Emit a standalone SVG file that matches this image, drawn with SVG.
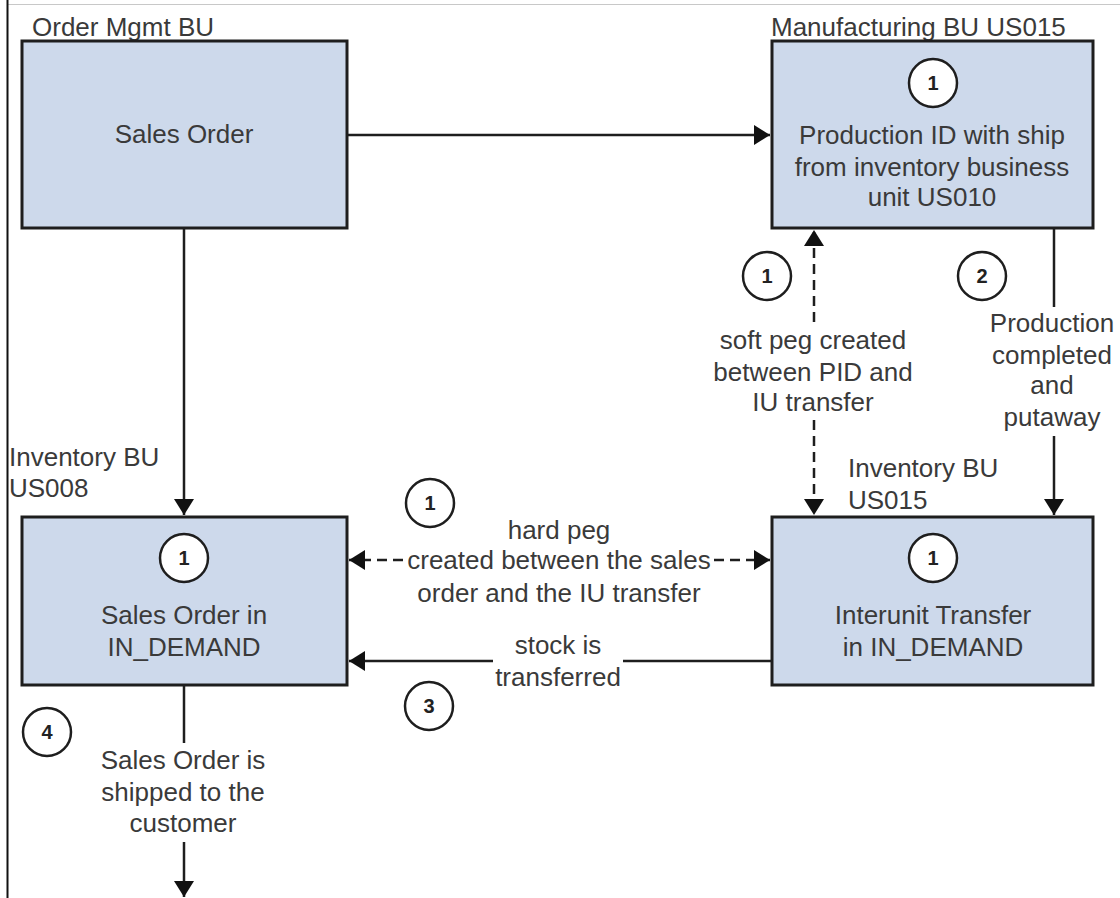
<svg xmlns="http://www.w3.org/2000/svg" width="1120" height="898" viewBox="0 0 1120 898">
<defs>
<style>
.box{fill:#cdd9eb;stroke:#1e1e1e;stroke-width:3}
.t{font-family:"Liberation Sans",Arial,sans-serif;font-size:26px;fill:#3a3a3a}
.c{text-anchor:middle}
.ln{stroke:#1e1e1e;stroke-width:2.5;fill:none}
.dash{stroke-dasharray:10 6}
.circ{fill:#fff;stroke:#1e1e1e;stroke-width:2.5}
.num{font-family:"Liberation Sans",Arial,sans-serif;font-size:20px;font-weight:bold;fill:#222;text-anchor:middle}
</style>
<marker id="ah" viewBox="0 0 16 20" refX="16" refY="10" markerWidth="16" markerHeight="20" markerUnits="userSpaceOnUse" orient="auto-start-reverse">
<path d="M0,0 L16,10 L0,20 z" fill="#111"/>
</marker>
</defs>
<rect x="0" y="0" width="1120" height="898" fill="#fff"/>
<line x1="7" y1="4.5" x2="1120" y2="4.5" stroke="#c8c8c8" stroke-width="1"/>
<line x1="7.5" y1="0" x2="7.5" y2="898" stroke="#111" stroke-width="2"/>

<g id="connectors">
<line class="ln" x1="347" y1="135" x2="770" y2="135" marker-end="url(#ah)"/>
<line class="ln" x1="184" y1="228" x2="184" y2="515" marker-end="url(#ah)"/>
<line class="ln dash" x1="814" y1="322" x2="814" y2="230" marker-end="url(#ah)"/>
<line class="ln dash" x1="814" y1="420" x2="814" y2="515" marker-end="url(#ah)"/>
<line class="ln" x1="1054" y1="228" x2="1054" y2="307"/>
<line class="ln" x1="1054" y1="436" x2="1054" y2="515" marker-end="url(#ah)"/>
<line class="ln dash" x1="403" y1="560" x2="349" y2="560" marker-end="url(#ah)"/>
<line class="ln dash" x1="714" y1="560" x2="770" y2="560" marker-end="url(#ah)"/>
<line class="ln" x1="772" y1="661" x2="623" y2="661"/>
<line class="ln" x1="493" y1="661" x2="349" y2="661" marker-end="url(#ah)"/>
<line class="ln" x1="184" y1="685" x2="184" y2="743"/>
<line class="ln" x1="184" y1="842" x2="184" y2="897" marker-end="url(#ah)"/>
<text class="t c" x="813" y="349">soft peg created</text>
<text class="t c" x="813" y="381">between PID and</text>
<text class="t c" x="813" y="411">IU transfer</text>
<text class="t c" x="1052" y="332">Production</text>
<text class="t c" x="1052" y="364">completed</text>
<text class="t c" x="1052" y="394">and</text>
<text class="t c" x="1052" y="426">putaway</text>
<text class="t c" x="559" y="539">hard peg</text>
<text class="t c" x="559" y="569">created between the sales</text>
<text class="t c" x="559" y="602">order and the IU transfer</text>
<text class="t c" x="558" y="654">stock is</text>
<text class="t c" x="558" y="686">transferred</text>
<text class="t c" x="183" y="769">Sales Order is</text>
<text class="t c" x="183" y="801">shipped to the</text>
<text class="t c" x="183" y="832">customer</text>
</g>

<g id="labels">
<text class="t" x="32" y="36">Order Mgmt BU</text>
<text class="t" x="771" y="36">Manufacturing BU US015</text>
<text class="t" x="9" y="466">Inventory BU</text>
<text class="t" x="9" y="497">US008</text>
<text class="t" x="848" y="477">Inventory BU</text>
<text class="t" x="848" y="509">US015</text>
</g>

<g id="node-sales-order">
<rect class="box" x="22" y="41" width="325" height="187"/>
<text class="t c" x="184" y="143">Sales Order</text>
</g>

<g id="node-production-id">
<rect class="box" x="772" y="41" width="321" height="187"/>
<circle class="circ" cx="933" cy="83" r="24"/>
<text class="num" x="933" y="90">1</text>
<text class="t c" x="932" y="144">Production ID with ship</text>
<text class="t c" x="932" y="176">from inventory business</text>
<text class="t c" x="932" y="206">unit US010</text>
</g>

<g id="node-sales-order-in-demand">
<rect class="box" x="22" y="517" width="325" height="168"/>
<circle class="circ" cx="184" cy="558" r="24"/>
<text class="num" x="184" y="565">1</text>
<text class="t c" x="184" y="624">Sales Order in</text>
<text class="t c" x="184" y="656">IN_DEMAND</text>
</g>

<g id="node-interunit-transfer">
<rect class="box" x="772" y="517" width="321" height="168"/>
<circle class="circ" cx="933" cy="558" r="24"/>
<text class="num" x="933" y="565">1</text>
<text class="t c" x="933" y="624">Interunit Transfer</text>
<text class="t c" x="933" y="656">in IN_DEMAND</text>
</g>

<g id="step-markers">
<circle class="circ" cx="767" cy="276" r="24"/>
<text class="num" x="767" y="283">1</text>
<circle class="circ" cx="982" cy="276" r="24"/>
<text class="num" x="982" y="283">2</text>
<circle class="circ" cx="430" cy="503" r="24"/>
<text class="num" x="430" y="510">1</text>
<circle class="circ" cx="429" cy="706" r="24"/>
<text class="num" x="429" y="713">3</text>
<circle class="circ" cx="47" cy="732" r="24"/>
<text class="num" x="47" y="739">4</text>
</g>
</svg>
